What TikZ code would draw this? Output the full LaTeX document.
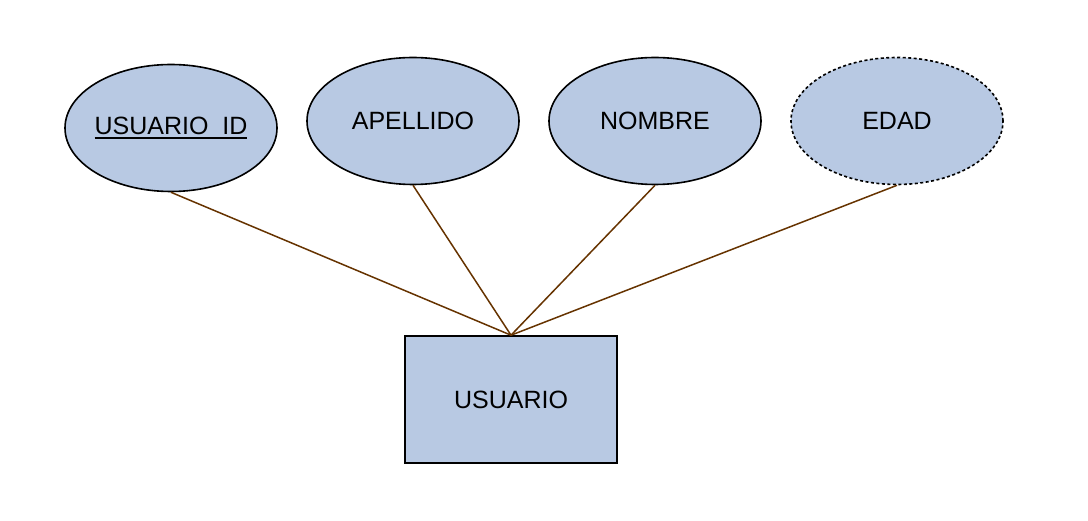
\documentclass[tikz,border=0pt]{standalone}
\usepackage{fontspec}
\setmainfont{Liberation Sans}
\usepackage{tikz}
\usetikzlibrary{positioning,shapes.geometric}

\definecolor{attrfill}{HTML}{B8C9E3}
\definecolor{linkbrown}{HTML}{663300}

% key attribute: text with a thick underline
\newcommand{\keytext}[1]{\setbox0\hbox{#1}\rlap{\copy0}\raisebox{-4.5pt}{\rule{\wd0}{1.8pt}}}

\tikzset{
  attr/.style={ellipse,draw=black,line width=1.6pt,fill=attrfill,
    minimum width=212pt,minimum height=127pt,inner sep=0pt,
    font=\fontsize{25}{29}\selectfont},
  keyattr/.style={attr,inner xsep=-8pt},
  derived/.style={attr,dash pattern=on 3pt off 2.5pt},
  entity/.style={rectangle,draw=black,line width=1.6pt,fill=attrfill,
    minimum width=212pt,minimum height=127pt,inner sep=0pt,
    font=\fontsize{25}{29}\selectfont},
  link/.style={draw=linkbrown,line width=1.5pt}
}

\begin{document}
\begin{tikzpicture}[x=1pt,y=1pt,node distance=242pt,on grid]
    \useasboundingbox (0,0) rectangle (1088,-521);
    \node[entity] (usuario)                 at (511,-399.5) {USUARIO};
    \node[attr]   (apellido)                at (413,-121)   {APELLIDO};
    \node[keyattr](usuario_id) [left=of apellido,yshift=-7pt] {\keytext{USUARIO\_ID}};
    \node[attr]   (nombre)     [right=of apellido]           {NOMBRE};
    \node[derived](edad)       [right=of nombre]             {EDAD};
    % links to the entity
    \path[link]
    (usuario_id.south) edge (usuario.north)
    (apellido.south)   edge (usuario.north)
    (nombre.south)     edge (usuario.north)
    (edad.south)       edge (usuario.north);
\end{tikzpicture}
\end{document}
